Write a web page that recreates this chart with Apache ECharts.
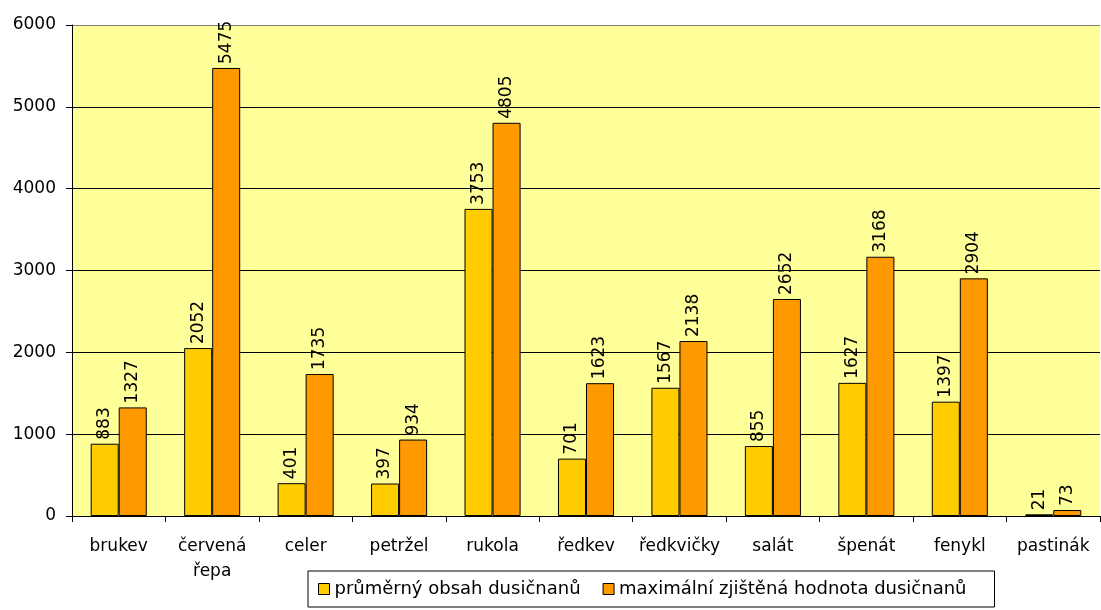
<!DOCTYPE html>
<html>
<head>
<meta charset="utf-8">
<script src="https://cdn.jsdelivr.net/npm/echarts@6/dist/echarts.min.js"></script>
<style>
  html, body { margin: 0; padding: 0; background: #fff; }
  #chart { width: 1101px; height: 610px; }
</style>
</head>
<body>
<div id="chart"></div>
<script>
// data
const categories = ['brukev', 'červená\nřepa', 'celer', 'petržel', 'rukola', 'ředkev', 'ředkvičky', 'salát', 'špenát', 'fenykl', 'pastinák']
const prumer = [883, 2052, 401, 397, 3753, 701, 1567, 855, 1627, 1397, 21]
const maximum = [1327, 5475, 1735, 934, 4805, 1623, 2138, 2652, 3168, 2904, 73]
const seriesNames = ['průměrný obsah dusičnanů', 'maximální zjištěná hodnota dusičnanů']

const font = 'DejaVu Sans'

const labelStyle = {
  show: true,
  position: 'top',
  rotate: 90,
  align: 'left',
  verticalAlign: 'middle',
  distance: 4,
  color: '#000',
  fontFamily: font,
  fontSize: 17
}

const option = {
  animation: false,
  textStyle: { fontFamily: font },
  grid: {
    left: 72,
    right: 1,
    top: 25,
    bottom: 94,
    show: true,
    backgroundColor: '#FFFF99',
    borderWidth: 0
  },
  legend: {
    data: seriesNames,
    left: 308,
    top: 571,
    orient: 'horizontal',
    padding: [9, 28, 9, 10],
    itemGap: 22,
    itemWidth: 11,
    itemHeight: 11,
    icon: 'rect',
    borderColor: '#000',
    borderWidth: 1,
    borderRadius: 0,
    itemStyle: { borderColor: '#000', borderWidth: 1 },
    textStyle: { color: '#000', fontSize: 18, fontFamily: font }
  },
  xAxis: {
    type: 'category',
    data: categories,
    axisLine: { show: true, lineStyle: { color: '#000', width: 1 } },
    axisTick: { show: true, length: 6, interval: 0, lineStyle: { color: '#000' } },
    axisLabel: {
      interval: 0,
      margin: 18,
      color: '#000',
      fontSize: 17,
      fontFamily: font,
      lineHeight: 25
    }
  },
  yAxis: {
    type: 'value',
    min: 0,
    max: 6000,
    interval: 1000,
    axisLine: { show: true, lineStyle: { color: '#000', width: 1 } },
    axisTick: { show: true, length: 6, lineStyle: { color: '#000' } },
    axisLabel: {
      color: '#000',
      fontSize: 17,
      fontFamily: font,
      margin: 16,
      formatter: v => String(v)   // no thousands separator
    },
    splitLine: {
      show: true,
      lineStyle: {
        // top line is the grey frame of the plot
        color: ['#000', '#000', '#000', '#000', '#000', '#000', '#808080'],
        width: 1
      }
    }
  },
  series: [
    {
      name: seriesNames[0],
      type: 'bar',
      data: prumer,
      barGap: '0%',
      barCategoryGap: '40%',
      itemStyle: { color: '#FFCC00', borderColor: '#000', borderWidth: 1 },
      label: labelStyle
    },
    {
      name: seriesNames[1],
      type: 'bar',
      data: maximum,
      barGap: '0%',
      barCategoryGap: '40%',
      itemStyle: { color: '#FF9900', borderColor: '#000', borderWidth: 1 },
      label: labelStyle
    }
  ]
}

const myChart = echarts.init(document.getElementById('chart'))
myChart.setOption(option)
</script>
</body>
</html>
